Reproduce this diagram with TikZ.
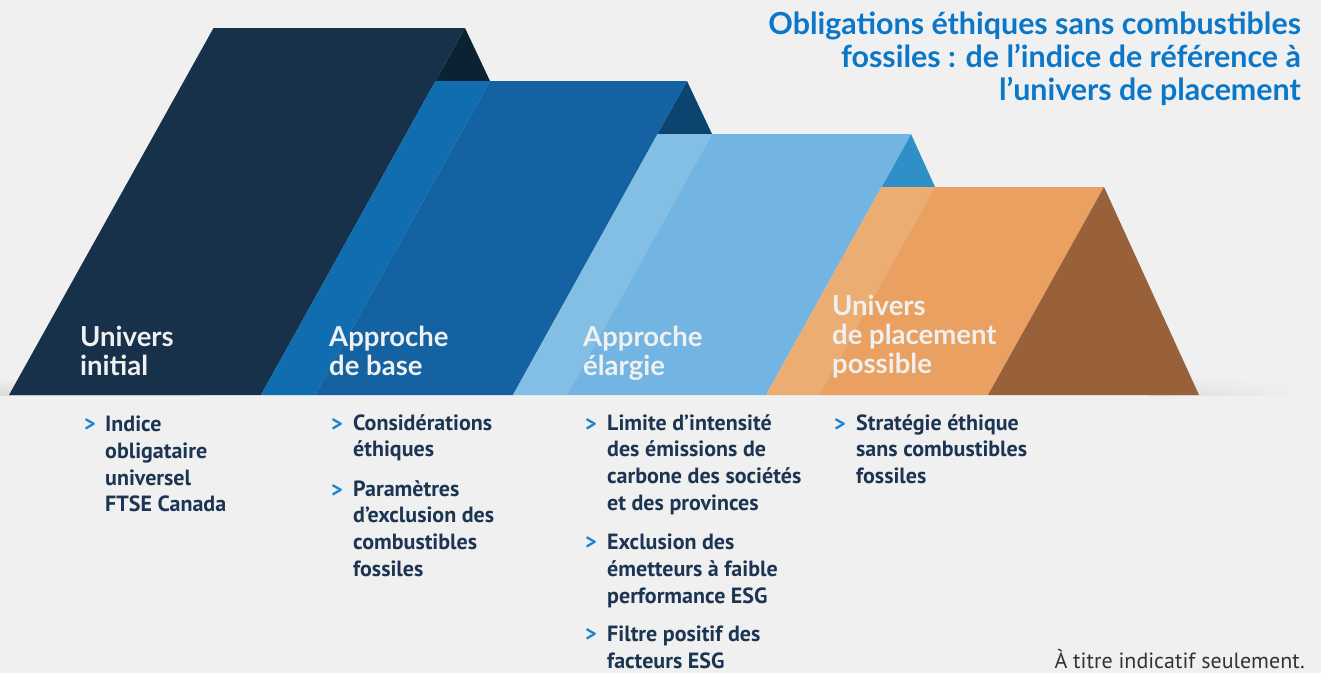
\documentclass[tikz,border=0pt]{standalone}
\usepackage{fontspec}
\setmainfont{Lato}
\newfontfamily\bulfont{PT Sans}
\usetikzlibrary{shadings}
\definecolor{bg}{HTML}{F0F0F0}
\definecolor{navy}{HTML}{17314B}
\definecolor{navyside}{HTML}{0B2233}
\definecolor{bluestrip}{HTML}{0F6DB0}
\definecolor{bluemain}{HTML}{1462A1}
\definecolor{blueside}{HTML}{0B446E}
\definecolor{lbstrip}{HTML}{83BEE5}
\definecolor{lbmain}{HTML}{72B5E2}
\definecolor{lbside}{HTML}{2F8FC7}
\definecolor{orstrip}{HTML}{ECAD72}
\definecolor{ormain}{HTML}{E9A060}
\definecolor{brown}{HTML}{98613A}
\definecolor{titleblue}{HTML}{0A77C9}
\definecolor{chev}{HTML}{1A82D0}
\definecolor{txt}{HTML}{1C3553}
\tikzset{
  x=1pt, y=-1pt,
  label/.style={text=bg, font=\fontsize{27.5}{28.8}\selectfont\bfseries, align=left, inner sep=0pt, anchor=north west},
  bul/.style={text=txt, font=\bulfont\fontsize{22}{26.7}\selectfont\bfseries, align=left, inner sep=0pt, anchor=north west},
  chevron/.style={text=chev, font=\bulfont\fontsize{22}{24}\selectfont\bfseries, inner sep=0pt, anchor=base west},
}
\begin{document}
\begin{tikzpicture}
\fill[bg] (0,0) rectangle (1321,673);
\useasboundingbox (0,0) rectangle (1321,673);
% shadows
\shade[top color=bg, bottom color=black!14] (0,378) rectangle (200,395);
\shade[upper left=bg, lower left=black!14, upper right=bg, lower right=bg] (1150,378) rectangle (1300,395);
% shape 1
\fill[navyside] (465,28) -- (490,81) -- (435.5,81) -- cycle;
\fill[navy] (213.5,28) -- (465,28) -- (261,395) -- (9,395) -- cycle;
% shape 2
\fill[blueside] (687,81) -- (712,134) -- (657.5,134) -- cycle;
\fill[bluestrip] (435.5,81) -- (490,81) -- (315,395) -- (261,395) -- cycle;
\fill[bluemain] (490,81) -- (687,81) -- (513,395) -- (315,395) -- cycle;
% shape 3
\fill[lbside] (911,134) -- (935,187) -- (881.5,187) -- cycle;
\fill[lbstrip] (657.5,134) -- (712,134) -- (567,395) -- (513,395) -- cycle;
\fill[lbmain] (712,134) -- (911,134) -- (766,395) -- (567,395) -- cycle;
% shape 4
\fill[orstrip] (881.5,187) -- (935,187) -- (819,395) -- (766,395) -- cycle;
\fill[ormain] (935,187) -- (1104,187) -- (988,395) -- (819,395) -- cycle;
\fill[brown] (1104,187) -- (1199,395) -- (988,395) -- cycle;

% title
\node[text=titleblue, font=\fontsize{30.4}{33}\selectfont\bfseries, align=right, anchor=north east, inner sep=0pt] (title) at (1301,11.5)
  {Obligations éthiques sans combustibles\\fossiles : de l’indice de référence à\\l’univers de placement};

% labels
\node[label] (l1) at (80,326) {Univers\\initial};
\node[label] (l2) at (329,326) {Approche\\de base};
\node[label] (l3) at (583,326) {Approche\\élargie};
\node[label] (l4) at (832,295) {Univers\\de placement\\possible};

% bullets column 1
\node[chevron] (c11) at (84,431.5) {>};
\node[bul] (b11) at (105,416) {Indice\\obligataire\\universel\\FTSE Canada};
% column 2
\node[chevron] (c21) at (331,431.5) {>};
\node[bul] (b21) at (353,414) {Considérations\\éthiques};
\node[chevron] (c22) at (331,497.5) {>};
\node[bul] (b22) at (353,480) {Paramètres\\d’exclusion des\\combustibles\\fossiles};
% column 3
\node[chevron] (c31) at (585,431.5) {>};
\node[bul] (b31) at (607,414) {Limite d’intensité\\des émissions de\\carbone des sociétés\\et des provinces};
\node[chevron] (c32) at (585,549.5) {>};
\node[bul] (b32) at (607,534) {Exclusion des\\émetteurs à faible\\performance ESG};
\node[chevron] (c33) at (585,641.5) {>};
\node[bul] (b33) at (607,626) {Filtre positif des\\facteurs ESG};
% column 4
\node[chevron] (c41) at (834,431.5) {>};
\node[bul] (b41) at (856,414) {Stratégie éthique\\sans combustibles\\fossiles};

% footnote
\node[text=black!80, font=\bulfont\fontsize{22}{24}\selectfont, anchor=base east, inner sep=0pt] (note) at (1305,668) {À titre indicatif seulement.};
\end{tikzpicture}
\end{document}
